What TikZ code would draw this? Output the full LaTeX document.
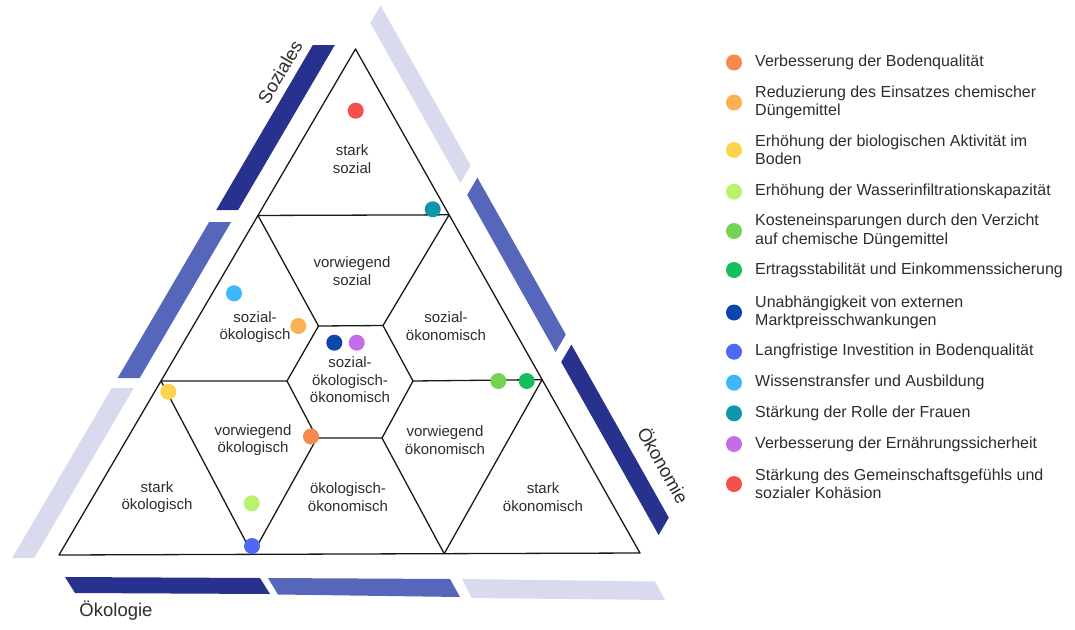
\documentclass[tikz,border=0pt]{standalone}
\usepackage{fontspec}
\setmainfont{Liberation Sans}
\usetikzlibrary{calc}
\definecolor{barDark}{RGB}{40,50,142}
\definecolor{barMid}{RGB}{86,102,186}
\definecolor{barLight}{RGB}{218,218,238}
\definecolor{txt}{RGB}{45,45,45}
\definecolor{cA}{HTML}{F58A4B}
\definecolor{cB}{HTML}{FBB054}
\definecolor{cC}{HTML}{FDD24E}
\definecolor{cD}{HTML}{B9F36B}
\definecolor{cE}{HTML}{72D454}
\definecolor{cF}{HTML}{14BE5B}
\definecolor{cG}{HTML}{0B46A8}
\definecolor{cH}{HTML}{4D68F5}
\definecolor{cI}{HTML}{3BB7FA}
\definecolor{cJ}{HTML}{0E97AA}
\definecolor{cK}{HTML}{C46DE8}
\definecolor{cL}{HTML}{F4504E}
\begin{document}
\begin{tikzpicture}[x=1pt,y=-1pt,
  edge/.style={draw=black!90,line width=1.3pt,line join=round},
  lab/.style={align=center,inner sep=0pt,text=txt,font=\fontsize{15}{17.5}\selectfont},
  leg/.style={anchor=west,align=left,inner sep=0pt,text=txt,font=\fontsize{16}{18.4}\selectfont},
  axis/.style={inner sep=0pt,text=txt,font=\fontsize{18.5}{20}\selectfont},
  dot/.style={circle,inner sep=0pt,minimum size=16pt,fill=#1}]
\useasboundingbox (0,0) rectangle (1075,629);
\fill[white] (0,0) rectangle (1075,629);

% side bars: left (Soziales)
\fill[barDark]  (334.8,45) -- (312.8,45) -- (216.2,210) -- (238.2,210) -- cycle;
\fill[barMid]   (231.1,222) -- (209.1,222) -- (117.7,378) -- (139.7,378) -- cycle;
\fill[barLight] (133.8,388) -- (111.8,388) -- (12.2,558) -- (34.2,558) -- cycle;
% right (Oekonomie)
\fill[barLight] (370.4,23) -- (380.6,5.6) -- (470.6,165.6) -- (460.4,183) -- cycle;
\fill[barMid]   (467.2,195) -- (477.4,177.6) -- (565.8,334.6) -- (555.6,352) -- cycle;
\fill[barDark]  (561.2,362) -- (571.4,344.6) -- (668.8,517.6) -- (658.6,535) -- cycle;
% bottom (Oekologie)
\fill[barDark]  (65,577) -- (260,578) -- (270,594) -- (75,593) -- cycle;
\fill[barMid]   (268,578) -- (450,579) -- (460,597) -- (278,594.5) -- cycle;
\fill[barLight] (462,579) -- (655,581.5) -- (665,600) -- (472,598) -- cycle;

% triangle corners and division points
\coordinate (A) at (355.5,49);
\coordinate (B) at (59,555);
\coordinate (C) at (640,553);
\coordinate (tl) at ($(A)!0.329!(B)$);
\coordinate (tr) at ($(A)!0.329!(C)$);
\coordinate (ml) at ($(A)!0.656!(B)$);
\coordinate (mr) at ($(A)!0.656!(C)$);
\coordinate (b1) at ($(B)!0.333!(C)$);
\coordinate (b2) at ($(B)!0.663!(C)$);
\coordinate (h1) at (287,381);
\coordinate (h2) at (318.5,326);
\coordinate (h3) at (383,325.5);
\coordinate (h4) at (413,381);
\coordinate (h5) at (382,438);
\coordinate (h6) at (317,438);

\draw[edge] (A) -- (B) -- (C) -- cycle;
\draw[edge] (tl) -- (tr);
\draw[edge] (ml) -- (h1);
\draw[edge] (h4) -- (mr);
\draw[edge] (h1) -- (h2) -- (h3) -- (h4) -- (h5) -- (h6) -- cycle;
\draw[edge] (tl) -- (h2);
\draw[edge] (tr) -- (h3);
\draw[edge] (ml) -- (b1);
\draw[edge] (h6) -- (b1);
\draw[edge] (h5) -- (b2);
\draw[edge] (mr) -- (b2);

% region labels
\node[lab] (r1) at (352,159) {stark\\sozial};
\node[lab] (r2) at (352,271) {vorwiegend\\sozial};
\node[lab] (r3) at (255,327) {sozial-\\ökologisch};
\node[lab] (r4) at (446,326) {sozial-\\ökonomisch};
\node[lab] (r5) at (350,380) {sozial-\\ökologisch-\\ökonomisch};
\node[lab] (r6) at (253,440) {vorwiegend\\ökologisch};
\node[lab] (r7) at (445,440) {vorwiegend\\ökonomisch};
\node[lab] (r8) at (348,497) {ökologisch-\\ökonomisch};
\node[lab] (r9) at (157,497) {stark\\ökologisch};
\node[lab] (r10) at (543,497) {stark\\ökonomisch};

% axis labels
\node[axis,rotate=59.6] (soz) at (280,72) {Soziales};
\node[axis,rotate=-60.6] (oek) at (664,465) {Ökonomie};
\node[axis] (eco) at (116,611) {Ökologie};

% dots in triangle
\node[dot=cL] (pL) at (355.7,110.7) {};
\node[dot=cJ] (pJ) at (432.7,209.3) {};
\node[dot=cI] (pI) at (234,293.3) {};
\node[dot=cB] (pB) at (298.3,326) {};
\node[dot=cG] (pG) at (334.3,342.7) {};
\node[dot=cK] (pK) at (356.7,342.7) {};
\node[dot=cC] (pC) at (168.3,391.7) {};
\node[dot=cA] (pA) at (311,436.5) {};
\node[dot=cD] (pD) at (251.7,503.3) {};
\node[dot=cH] (pH) at (252,546) {};
\node[dot=cE] (pE) at (498.3,381) {};
\node[dot=cF] (pF) at (526.7,381) {};

% legend
\node[dot=cA] (l1) at (734,62.5) {};
\node[leg] (t1) at (755,62.5) {Verbesserung der Bodenqualität};
\node[dot=cB] (l2) at (734,102.5) {};
\node[leg] (t2) at (755,102.5) {Reduzierung des Einsatzes chemischer\\Düngemittel};
\node[dot=cC] (l3) at (734,150) {};
\node[leg] (t3) at (755,150) {Erhöhung der biologischen Aktivität im\\Boden};
\node[dot=cD] (l4) at (734,191.7) {};
\node[leg] (t4) at (755,191.7) {Erhöhung der Wasserinfiltrationskapazität};
\node[dot=cE] (l5) at (734,231) {};
\node[leg] (t5) at (755,231) {Kosteneinsparungen durch den Verzicht\\auf chemische Düngemittel};
\node[dot=cF] (l6) at (734,270) {};
\node[leg] (t6) at (755,270) {Ertragsstabilität und Einkommenssicherung};
\node[dot=cG] (l7) at (734,312.5) {};
\node[leg] (t7) at (755,312.5) {Unabhängigkeit von externen\\Marktpreisschwankungen};
\node[dot=cH] (l8) at (734,351.7) {};
\node[leg] (t8) at (755,351.7) {Langfristige Investition in Bodenqualität};
\node[dot=cI] (l9) at (734,382.7) {};
\node[leg] (t9) at (755,382.7) {Wissenstransfer und Ausbildung};
\node[dot=cJ] (l10) at (734,413.3) {};
\node[leg] (t10) at (755,413.3) {Stärkung der Rolle der Frauen};
\node[dot=cK] (l11) at (734,444) {};
\node[leg] (t11) at (755,444) {Verbesserung der Ernährungssicherheit};
\node[dot=cL] (l12) at (734,484) {};
\node[leg] (t12) at (755,484) {Stärkung des Gemeinschaftsgefühls und\\sozialer Kohäsion};
\end{tikzpicture}
\end{document}
